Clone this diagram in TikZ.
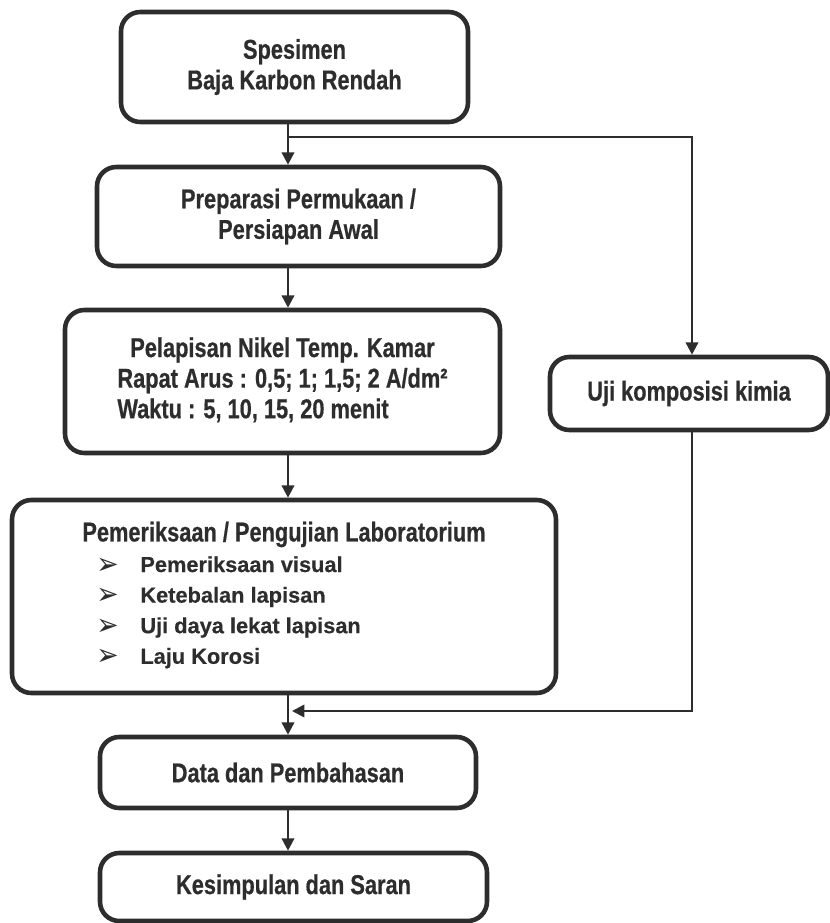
\documentclass[tikz,border=0pt]{standalone}
\usepackage{fontspec}
\setmainfont{Liberation Sans}
\newfontfamily\narrowfont{Liberation Sans}[FakeStretch=0.8, FakeBold=0.6]
\newfontfamily\symfont{DejaVu Sans}
\usetikzlibrary{arrows.meta, positioning}
\definecolor{InkGray}{RGB}{45,45,45}
\newcommand{\itemarrow}{\raisebox{-1.2pt}{\scalebox{1.05}[1.2]{\symfont\fontsize{14.5}{14.5}\selectfont ➢}}}
\newcommand{\listfont}{\fontspec{Liberation Sans}[FakeBold=0.4]\bfseries\fontsize{12.4}{17}\selectfont}

\begin{document}
\begin{tikzpicture}[
          box/.style={rectangle, rounded corners=11pt, draw=InkGray, line width=2.6pt,
                      text=InkGray, align=center,
                      font=\narrowfont\bfseries\fontsize{15.5}{17.4}\selectfont},
          arr/.style={-{Triangle[length=7pt, width=7pt]}, line width=1.4pt, InkGray}
        ]
        \useasboundingbox (0,0) rectangle (16.6,-18.46);

        \node[box, minimum width=6.94cm, minimum height=2.2cm]  (spes) at (5.89, -1.34)
              {Spesimen\\Baja Karbon Rendah};
        \node[box, minimum width=8.06cm, minimum height=1.98cm] (prep) at (5.97, -4.33)
              {Preparasi Permukaan /\\Persiapan Awal};
        \node[box, minimum width=8.7cm, minimum height=2.86cm]  (plat) at (5.65, -7.63)
              {\begin{tabular}{@{}l@{}}
                 \multicolumn{1}{@{}c@{}}{Pelapisan Nikel Temp. Kamar}\\
                 Rapat Arus : 0,5; 1; 1,5; 2 A/dm²\\
                 Waktu : 5, 10, 15, 20 menit
               \end{tabular}};
        \node[box, minimum width=10.88cm, minimum height=3.86cm] (lab) at (5.68, -11.93)
              {\begin{tabular}{@{}l@{}}
                 Pemeriksaan / Pengujian Laboratorium\\
                 \hspace{0.28cm}\makebox[0.88cm][l]{\itemarrow}{\listfont Pemeriksaan visual}\\
                 \hspace{0.28cm}\makebox[0.88cm][l]{\itemarrow}{\listfont Ketebalan lapisan}\\
                 \hspace{0.28cm}\makebox[0.88cm][l]{\itemarrow}{\listfont Uji daya lekat lapisan}\\
                 \hspace{0.28cm}\makebox[0.88cm][l]{\itemarrow}{\listfont Laju Korosi}
               \end{tabular}};
        \node[box, minimum width=7.52cm, minimum height=1.42cm] (data) at (5.76, -15.45)
              {Data dan Pembahasan};
        \node[box, minimum width=7.74cm, minimum height=1.36cm] (simp) at (5.87, -17.74)
              {Kesimpulan dan Saran};
        \node[box, minimum width=5.56cm, minimum height=1.46cm] (uji)  at (13.78, -7.87)
              {Uji komposisi kimia};

        \coordinate (split) at (5.76, -2.74);
        \coordinate (turn)  at (13.84, -2.74);
        \coordinate (join)  at (5.84, -14.22);

        \draw[arr] (spes.south -| split) -- (prep.north -| split);
        \draw[arr] (prep.south -| split) -- (plat.north -| split);
        \draw[arr] (plat.south -| split) -- (lab.north -| split);
        \draw[arr] (lab.south -| split) -- (data.north -| split);
        \draw[arr] (data.south -| split) -- (simp.north -| split);

        % cabang ke uji komposisi
        \draw[arr] (split) -- (turn) -- (uji.north -| turn);
        \draw[arr] (uji.south -| turn) |- (join);
      \end{tikzpicture}
\end{document}
